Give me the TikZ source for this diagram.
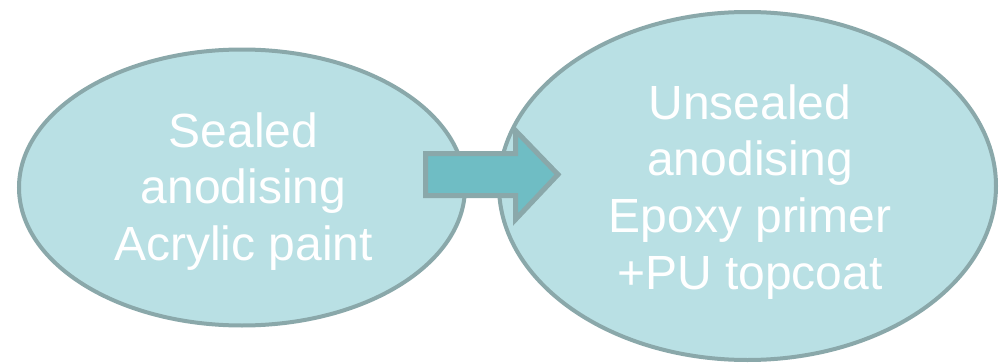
\documentclass[tikz,border=0pt]{standalone}
\usepackage{fontspec}
\setmainfont{Liberation Sans}
\usetikzlibrary{shapes.geometric}
\definecolor{blobfill}{RGB}{185,224,228}
\definecolor{blobline}{RGB}{138,168,170}
\definecolor{arrowfill}{RGB}{111,189,196}
\tikzset{
  blob/.style={ellipse, draw=blobline, fill=blobfill, line width=3pt, inner sep=0pt, outer sep=0pt},
  txt/.style={text=white, align=center, inner sep=0pt, font=\fontsize{36}{42.5}\selectfont},
  bigarrow/.style={draw=blobline, fill=arrowfill, line width=3.75pt, line join=miter}
}
\begin{document}
\begin{tikzpicture}[x=0.75pt,y=-0.75pt]
\useasboundingbox (0,0) rectangle (1001,364);
\node[blob, minimum width=446*0.75pt, minimum height=276*0.75pt] (left) at (242,187.5) {};
\node[blob, minimum width=497*0.75pt, minimum height=348*0.75pt] (right) at (747.5,186) {};
\node[txt, anchor=north] (lefttext) at (243.5,112) {Sealed\\anodising\\Acrylic paint};
\node[txt, anchor=north] (righttext) at (750,84) {Unsealed\\anodising\\Epoxy primer\\+PU topcoat};
\coordinate (arrtail) at (425.5,174.5);
\coordinate (arrtip) at (558,174.5);
\draw[bigarrow] (arrtail |- 0,153.5) -- (515.5,153.5) -- (515.5,130.5) -- (arrtip)
  -- (515.5,219.5) -- (515.5,195.5) -- (arrtail |- 0,195.5) -- cycle;
\end{tikzpicture}
\end{document}
